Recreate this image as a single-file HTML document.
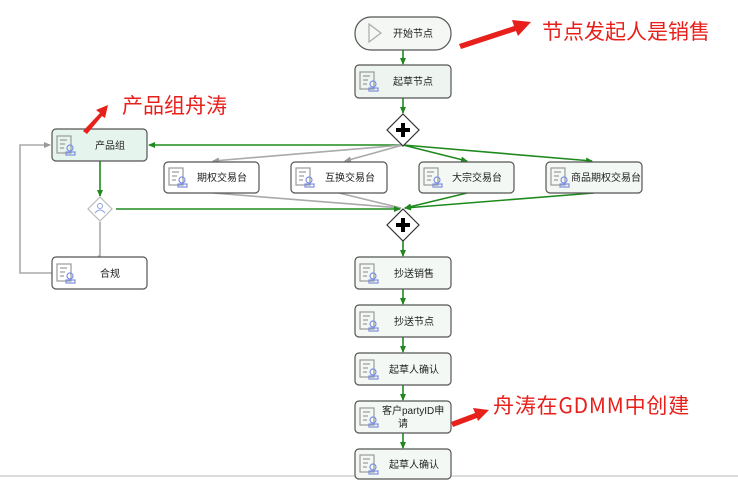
<!DOCTYPE html>
<html><head><meta charset="utf-8"><style>
body{margin:0;background:#fff;}
svg{display:block;font-family:"Liberation Sans","Noto Sans CJK SC",sans-serif;}
</style></head><body>
<svg width="738" height="480" viewBox="0 0 738 480">
<defs>
<marker id="g" markerWidth="8" markerHeight="8" refX="6" refY="4" orient="auto" markerUnits="userSpaceOnUse"><path d="M0,1 L7,4 L0,7z" fill="#1e8a1e"/></marker>
<marker id="s" markerWidth="8" markerHeight="8" refX="6" refY="4" orient="auto" markerUnits="userSpaceOnUse"><path d="M0,1 L7,4 L0,7z" fill="#999"/></marker>
<g id="ic"><rect x="0" y="0" width="14" height="17" fill="none" stroke="#999" stroke-width="1.2"/><line x1="3" y1="4" x2="10" y2="4" stroke="#999"/><line x1="3" y1="8" x2="8" y2="8" stroke="#999"/><line x1="3" y1="12" x2="7" y2="12" stroke="#999"/><circle cx="13" cy="12" r="3" fill="none" stroke="#7a8fe0"/><rect x="9" y="16" width="9" height="3" fill="none" stroke="#7a8fe0"/></g>
</defs>
<rect width="738" height="480" fill="#fff"/>
<line x1="0" y1="476" x2="738" y2="476" stroke="#ddd" stroke-width="2"/>
<g fill="none" stroke-width="1.6">
<line x1="403" y1="50" x2="403" y2="64" stroke="#1e8a1e" marker-end="url(#g)"/>
<line x1="403" y1="98" x2="403" y2="113" stroke="#1e8a1e" marker-end="url(#g)"/>
<line x1="403" y1="145" x2="149" y2="145" stroke="#1e8a1e" marker-end="url(#g)"/>
<line x1="403" y1="145" x2="213" y2="161" stroke="#aaa" marker-end="url(#s)"/>
<line x1="403" y1="145" x2="345" y2="161" stroke="#aaa" marker-end="url(#s)"/>
<line x1="403" y1="145" x2="467" y2="161" stroke="#1e8a1e" marker-end="url(#g)"/>
<line x1="403" y1="145" x2="592" y2="161" stroke="#1e8a1e" marker-end="url(#g)"/>
<line x1="213" y1="193" x2="401" y2="208" stroke="#aaa"/>
<line x1="339" y1="193" x2="401" y2="208" stroke="#aaa"/>
<line x1="467" y1="193" x2="405" y2="208" stroke="#1e8a1e" marker-end="url(#g)"/>
<line x1="594" y1="193" x2="405" y2="208" stroke="#1e8a1e" marker-end="url(#g)"/>
<line x1="116" y1="209" x2="400" y2="209" stroke="#1e8a1e" marker-end="url(#g)"/>
<line x1="100" y1="161" x2="100" y2="196" stroke="#1e8a1e" marker-end="url(#g)"/>
<polyline points="100,222 100,256 98,256" stroke="#aaa"/>
<polyline points="52,273 20,273 20,145 50,145" stroke="#aaa" marker-end="url(#s)"/>
<line x1="403" y1="241" x2="403" y2="256" stroke="#1e8a1e" marker-end="url(#g)"/>
<line x1="403" y1="289" x2="403" y2="304" stroke="#1e8a1e" marker-end="url(#g)"/>
<line x1="403" y1="337" x2="403" y2="352" stroke="#1e8a1e" marker-end="url(#g)"/>
<line x1="403" y1="385" x2="403" y2="400" stroke="#1e8a1e" marker-end="url(#g)"/>
<line x1="403" y1="433" x2="403" y2="448" stroke="#1e8a1e" marker-end="url(#g)"/>
</g>
<g stroke="#555" stroke-width="1.2" font-size="10" fill="#222">
<rect x="355" y="17" width="96" height="33" rx="16" fill="#f4f7f4"/><path d="M369,24 L381,33 L369,42z" fill="none" stroke="#aaa"/><text x="393" y="37" stroke="none">开始节点</text>
<rect x="355" y="65" width="96" height="33" rx="4" fill="#eef5f1"/><use href="#ic" x="360" y="72"/><text x="393" y="85" stroke="none">起草节点</text>
<rect x="52" y="129" width="95" height="32" rx="4" fill="#e6f4ee"/><use href="#ic" x="57" y="136"/><text x="95" y="149" stroke="none">产品组</text>
<rect x="164" y="162" width="95" height="31" rx="4" fill="#fff"/><use href="#ic" x="169" y="168"/><text x="197" y="181" stroke="none">期权交易台</text>
<rect x="291" y="162" width="96" height="31" rx="4" fill="#fff"/><use href="#ic" x="296" y="168"/><text x="325" y="181" stroke="none">互换交易台</text>
<rect x="419" y="162" width="95" height="31" rx="4" fill="#f4f8f4"/><use href="#ic" x="424" y="168"/><text x="452" y="181" stroke="none">大宗交易台</text>
<rect x="546" y="162" width="96" height="31" rx="4" fill="#f4f8f4"/><use href="#ic" x="551" y="168"/><text x="571" y="181" stroke="none">商品期权交易台</text>
<rect x="52" y="257" width="95" height="32" rx="4" fill="#fff"/><use href="#ic" x="57" y="264"/><text x="100" y="277" stroke="none">合规</text>
<rect x="355" y="257" width="96" height="32" rx="4" fill="#f4f8f4"/><use href="#ic" x="360" y="264"/><text x="394" y="277" stroke="none">抄送销售</text>
<rect x="355" y="305" width="96" height="32" rx="4" fill="#f4f8f4"/><use href="#ic" x="360" y="312"/><text x="394" y="325" stroke="none">抄送节点</text>
<rect x="355" y="353" width="96" height="32" rx="4" fill="#f4f8f4"/><use href="#ic" x="360" y="360"/><text x="389" y="373" stroke="none">起草人确认</text>
<rect x="355" y="401" width="96" height="32" rx="4" fill="#f4f8f4"/><use href="#ic" x="360" y="408"/><text x="382" y="414" stroke="none">客户partyID申</text><text x="398" y="427" stroke="none">请</text>
<rect x="355" y="449" width="96" height="30" rx="4" fill="#f4f8f4"/><use href="#ic" x="360" y="455"/><text x="389" y="468" stroke="none">起草人确认</text>
</g>
<path d="M403,114 L419,130 L403,146 L387,130z" fill="#fff" stroke="#333" stroke-width="1.2"/>
<path d="M396,130h14M403,123v14" stroke="#000" stroke-width="4"/>
<path d="M403,209 L419,225 L403,241 L387,225z" fill="#fff" stroke="#333" stroke-width="1.2"/>
<path d="M396,225h14M403,218v14" stroke="#000" stroke-width="4"/>
<path d="M100,197 L112,209 L100,221 L88,209z" fill="#fff" stroke="#bbb" stroke-width="1.2"/>
<circle cx="100" cy="206" r="2.5" fill="none" stroke="#8aa0e0"/><path d="M95,213 q5,-6 10,0" fill="none" stroke="#8aa0e0"/>
<g fill="#e8201c">
<path d="M459,44 L514,26 L512,20 L531,22 L518,36 L516,31 L461,49z"/>
<path d="M83,131 L100,113 L96,110 L108,105 L105,118 L102,116 L87,134z"/>
<path d="M451,422 L475,413 L473,408 L489,410 L478,421 L477,418 L453,427z"/>
<g font-family="'Noto Sans CJK SC',sans-serif" font-size="21">
<text x="542" y="39">节点发起人是销售</text>
<text x="122" y="113">产品组舟涛</text>
<text x="493" y="413" letter-spacing="0.8">舟涛在GDMM中创建</text>
</g></g>
</svg>
</body></html>
